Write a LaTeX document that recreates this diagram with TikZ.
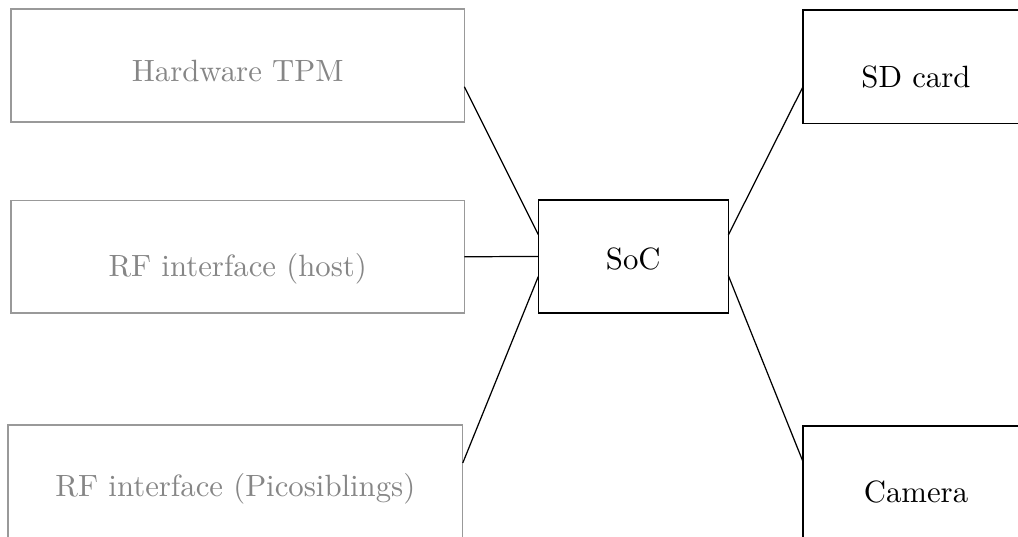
\documentclass[tikz,border=0pt]{standalone}
\usetikzlibrary{calc}
\begin{document}
\begin{tikzpicture}[x=0.325pt,y=-0.325pt,
  box/.style={draw, rectangle, inner sep=0pt, outer sep=0pt, text depth=0pt},
  graybox/.style={box, draw=gray!80, text=gray!95},
  link/.style={draw, line width=0.4pt}]
\useasboundingbox (0,0) rectangle (1018,536);
\node[graybox, minimum width=453.3*0.325pt, minimum height=113*0.325pt, text height=2*15.5*0.325pt] (hw) at (237.7,65.5) {Hardware TPM};
\node[graybox, minimum width=453.3*0.325pt, minimum height=112.5*0.325pt, text height=2*19.8*0.325pt] (host) at (237.7,256.7) {RF interface (host)};
\node[graybox, minimum width=454.7*0.325pt, minimum height=113*0.325pt, text height=2*14.5*0.325pt] (pico) at (235.4,481.5) {RF interface (Picosiblings)};
\node[box, minimum width=190*0.325pt, minimum height=113*0.325pt, text height=2*12.5*0.325pt] (soc) at (633.3,256.5) {SoC};
\node[box, minimum width=226*0.325pt, minimum height=113.3*0.325pt, text height=2*20.3*0.325pt] (sd) at (916,66.7) {SD card};
\node[box, minimum width=226*0.325pt, minimum height=113*0.325pt, text height=2*19.5*0.325pt] (cam) at (916,482.5) {Camera};
\draw[link] ($(hw.east)+(0,21.2)$) -- ($(soc.west)+(0,-22)$);
\draw[link] (host.east) -- (soc.west);
\draw[link] ($(pico.east)+(0,-18.5)$) -- ($(soc.west)+(0,20)$);
\draw[link] ($(soc.east)+(0,-21.5)$) -- ($(sd.west)+(0,20)$);
\draw[link] ($(soc.east)+(0,19)$) -- ($(cam.west)+(0,-20.8)$);
\end{tikzpicture}
\end{document}
